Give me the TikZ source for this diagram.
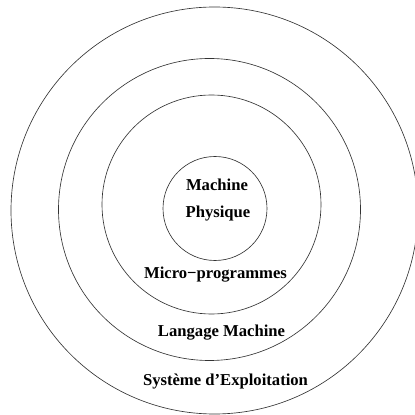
\documentclass[tikz,border=0pt]{standalone}
\usepackage{fontspec}
\setmainfont{Liberation Serif}
\usepackage{xcolor}
\definecolor{ringLine}{HTML}{333333}
\usetikzlibrary{positioning}
\tikzset{
    ring/.style={
        draw=ringLine,
        line width=0.55pt
    },
    layer/.style={
        font=\fontsize{14.2}{17}\selectfont\bfseries,
        anchor=base,
        inner sep=0pt
    }
}
\begin{document}
\begin{tikzpicture}[x=0.03cm, y=0.03cm]
    \useasboundingbox (0,0) rectangle (415,415);

    % rings, outer to inner
    \draw[ring] (214.5,204.5) circle (203.5);
    \draw[ring] (209.5,205.5) circle (151);
    \draw[ring] (211.5,210.5) circle (109.5);
    \draw[ring] (215,206.5) circle (52);

    \node[layer] (machine) at (217,224.3) {Machine};
    \node[layer] (physique) at (218,197) {Physique};
    \node[layer] (micro) at (215.5,136) {Micro−programmes};
    \node[layer] (langage) at (221.5,78) {Langage Machine};
    \node[layer] (systeme) at (225.5,29) {Système d’Exploitation};
\end{tikzpicture}
\end{document}
